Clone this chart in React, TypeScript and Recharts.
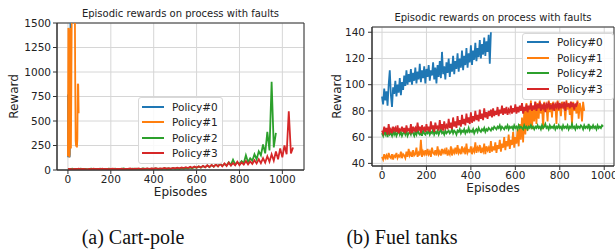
import React from 'react';
import { LineChart, Line, XAxis, YAxis, CartesianGrid, Legend, ReferenceArea } from 'recharts';

const COLORS = ['#1f77b4', '#ff7f0e', '#2ca02c', '#d62728'];
const POLICIES = ['Policy#0', 'Policy#1', 'Policy#2', 'Policy#3'];
const FONT = 'DejaVu Sans, sans-serif';

// ---- (a) Cart-pole: rewards per episode (sampled every N episodes) ----
const CART_STEPS = [1, 2, 10, 10];
const CART_P0 = [770, 130, 250, 150, 300, 200, 180, 140, 130, 160, 1200, 620, 1700, 1800, 1600, 1750, 1900, 1700, 1800, 1650, 1700];
const CART_P1 = [140, 1450, 1420, 130, 160, 600, 1450, 220, 900, 1700, 1800, 1650, 1750, 1900, 1700, 1600, 1800, 900, 300, 240, 260, 230, 320, 880, 870, 580];
const CART_P2 = [
  12, 9, 14, 10, 11, 9, 13, 10, 12, 9,
  11, 14, 9, 12, 10, 13, 9, 12, 10, 14,
  11, 9, 13, 10, 12, 11, 15, 10, 12, 9,
  13, 11, 14, 10, 12, 15, 11, 13, 10, 14,
  12, 16, 11, 14, 12, 17, 13, 15, 12, 18,
  14, 16, 13, 19, 15, 22, 17, 25, 18, 30,
  22, 35, 24, 40, 28, 45, 30, 50, 35, 55,
  38, 65, 42, 60, 48, 80, 52, 105, 58, 75,
  62, 90, 70, 150, 80, 120, 95, 160, 110, 190,
  150, 260, 170, 390, 200, 900, 230, 380,
];
const CART_P3 = [
  8, 12, 7, 11, 9, 13, 8, 12, 10, 7,
  12, 9, 13, 8, 11, 10, 14, 9, 12, 8,
  11, 13, 9, 12, 10, 14, 8, 12, 11, 15,
  9, 13, 11, 16, 10, 14, 12, 17, 11, 15,
  13, 18, 12, 16, 14, 20, 13, 18, 15, 22,
  16, 24, 17, 26, 19, 28, 20, 32, 22, 35,
  24, 38, 26, 42, 28, 48, 30, 52, 33, 58,
  36, 62, 38, 68, 42, 75, 45, 70, 48, 85,
  50, 78, 55, 92, 58, 88, 62, 100, 66, 110,
  70, 120, 75, 140, 85, 160, 95, 190, 110, 220,
  130, 250, 160, 600, 170, 230,
];
const CART_SERIES = [CART_P0, CART_P1, CART_P2, CART_P3];
const CART_X_TICKS = [0, 200, 400, 600, 800, 1000];
const CART_Y_TICKS = [0, 250, 500, 750, 1000, 1250, 1500];

// ---- (b) Fuel tanks: rewards every 5 episodes ----
const FUEL_STEP = 5;
const FUEL_P0 = [
  91, 85, 97, 88, 95, 84, 100, 111, 92, 83,
  98, 93, 103, 91, 100, 94, 105, 92, 102, 96,
  107, 99, 111, 100, 108, 102, 112, 100, 109, 103,
  113, 101, 110, 104, 116, 102, 111, 105, 114, 101,
  112, 106, 115, 103, 111, 107, 117, 104, 113, 101,
  115, 106, 118, 105, 125, 108, 114, 104, 117, 109,
  120, 106, 116, 110, 122, 108, 118, 112, 124, 110,
  120, 113, 126, 111, 122, 115, 128, 113, 124, 117,
  130, 115, 126, 119, 132, 118, 128, 121, 134, 120,
  131, 123, 136, 122, 133, 125, 138, 116, 140,
];
const FUEL_P1 = [
  45, 43, 47, 44, 46, 43, 48, 45, 44, 47, 43, 46, 45, 48, 44, 46, 45, 49, 44, 47,
  46, 44, 49, 45, 51, 46, 48, 45, 50, 46, 47, 52, 45, 48, 46, 58, 45, 49, 47, 50,
  46, 51, 47, 49, 45, 52, 48, 47, 50, 46, 53, 47, 49, 46, 51, 48, 50, 47, 52, 46,
  49, 47, 53, 46, 50, 48, 52, 47, 54, 48, 50, 47, 53, 49, 51, 47, 55, 48, 50, 49,
  53, 47, 51, 49, 56, 48, 52, 50, 54, 48, 51, 49, 55, 47, 53, 50, 52, 48, 57, 49,
  53, 50, 56, 48, 54, 51, 58, 49, 55, 52, 60, 50, 57, 53, 62, 51, 58, 54, 64, 52,
  60, 55, 66, 53, 70, 58, 75, 56, 80, 62, 86, 65, 82, 68, 88, 66, 84, 72, 87, 70,
  86, 74, 88, 78, 85, 66, 87, 80, 84, 72, 88, 79, 86, 75, 87, 81, 85, 70, 88, 80,
  84, 76, 87, 82, 85, 73, 88, 81, 86, 77, 84, 70, 87, 80, 85, 78, 88, 74, 86, 82,
  72, 87, 80,
];
const FUEL_P2 = [
  63, 61, 65, 62, 64, 60, 66, 62, 63, 61, 65, 62, 64, 61, 63, 65, 62, 64, 61, 63,
  64, 62, 65, 61, 63, 64, 62, 65, 63, 61, 64, 62, 66, 63, 62, 64, 61, 65, 63, 62,
  64, 63, 65, 62, 64, 63, 66, 62, 64, 63, 65, 62, 64, 66, 63, 64, 62, 65, 63, 64,
  65, 63, 64, 66, 63, 65, 64, 62, 65, 64, 66, 63, 65, 64, 66, 63, 65, 64, 67, 64,
  65, 64, 66, 63, 65, 66, 64, 67, 65, 64, 66, 65, 67, 64, 66, 65, 67, 66, 65, 67,
  66, 68, 67, 66, 68, 67, 69, 66, 68, 67, 66, 68, 67, 69, 66, 68, 67, 68, 66, 69,
  67, 68, 66, 69, 67, 68, 67, 66, 69, 67, 68, 66, 68, 67, 69, 67, 68, 66, 68, 67,
  69, 67, 68, 66, 69, 67, 68, 70, 67, 68, 66, 69, 67, 68, 67, 69, 66, 68, 67, 69,
  67, 68, 66, 69, 67, 68, 67, 69, 66, 68, 67, 70, 67, 68, 66, 69, 67, 68, 67, 69,
  68, 66, 69, 67, 68, 67, 70, 66, 68, 67, 69, 67, 68, 66, 69, 67, 68, 67, 69, 68,
];
const FUEL_P3 = [
  65, 63, 68, 64, 67, 62, 70, 64, 66, 63, 68, 65, 67, 64, 69, 63, 66, 65, 68, 64,
  67, 63, 69, 65, 66, 64, 70, 63, 68, 65, 67, 64, 71, 65, 68, 63, 69, 66, 67, 64,
  70, 65, 68, 64, 72, 66, 69, 64, 71, 67, 68, 65, 73, 66, 70, 65, 72, 67, 69, 66,
  74, 67, 71, 66, 75, 68, 72, 67, 76, 69, 73, 68, 77, 70, 74, 69, 78, 71, 75, 70,
  79, 71, 76, 72, 80, 73, 77, 72, 81, 74, 78, 73, 82, 75, 79, 74, 80, 76, 81, 75,
  82, 76, 80, 77, 83, 76, 81, 78, 84, 77, 82, 78, 83, 77, 81, 79, 84, 78, 82, 79,
  85, 78, 83, 79, 84, 80, 86, 78, 83, 80, 85, 79, 84, 81, 86, 80, 84, 81, 87, 80,
  85, 82, 87, 80, 84, 82, 86, 79, 85, 83, 87, 81, 84, 82, 86, 80, 85, 83, 87, 81,
  86, 82, 85, 83, 87, 80, 86, 84, 85, 82, 87, 83, 86, 81, 85, 84, 87,
];
const FUEL_SERIES = [FUEL_P0, FUEL_P1, FUEL_P2, FUEL_P3];
const FUEL_X_TICKS = [0, 200, 400, 600, 800, 1000];
const FUEL_Y_TICKS = [40, 60, 80, 100, 120, 140];

const toPoints = (ys: number[], step: number) => ys.map((reward, i) => ({ episode: i * step, reward }));

const tickStyle = { fontSize: 10.5, fill: '#222', fontFamily: FONT };
const labelStyle = { fontSize: 12, fill: '#222', fontFamily: FONT, textAnchor: 'middle' as const };

const PolicyLegend = ({ rowHeight, padTop, padLeft }: any) => (
  <div
    style={{
      background: 'rgba(255,255,255,0.85)',
      border: '1px solid #d8d8d8',
      borderRadius: 3,
      paddingTop: padTop,
      paddingLeft: padLeft,
      paddingBottom: 2,
      fontFamily: FONT,
      fontSize: 10.5,
      color: '#222',
      boxSizing: 'border-box',
    }}
  >
    {POLICIES.map((p, i) => (
      <div key={p} style={{ display: 'flex', alignItems: 'center', height: rowHeight }}>
        <span style={{ display: 'inline-block', width: 22, height: 2, background: COLORS[i], marginRight: 8 }} />
        <span>{p}</span>
      </div>
    ))}
  </div>
);

const CartChart = () => (
  <LineChart width={310} height={200} margin={{ top: 23, right: 6, bottom: 0, left: 0 }}>
    <CartesianGrid stroke="#d6d6d6" />
    <XAxis
      type="number"
      dataKey="episode"
      domain={[-51, 1101]}
      ticks={CART_X_TICKS}
      interval={0}
      height={30}
      tickSize={4}
      tickMargin={2}
      stroke="#333"
      tick={tickStyle}
      label={{ value: 'Episodes', position: 'insideBottom', offset: 4, style: labelStyle }}
    />
    <YAxis
      type="number"
      domain={[0, 1500]}
      allowDataOverflow
      ticks={CART_Y_TICKS}
      interval={0}
      width={57}
      tickSize={4}
      tickMargin={2}
      stroke="#333"
      tick={tickStyle}
      label={{ value: 'Reward', angle: -90, position: 'insideLeft', offset: 14, style: labelStyle }}
    />
    <ReferenceArea x1={-51} x2={1101} y1={0} y2={1500} fill="none" stroke="#333" strokeWidth={1} />
    {CART_SERIES.map((ys, i) => (
      <Line
        key={POLICIES[i]}
        name={POLICIES[i]}
        data={toPoints(ys, CART_STEPS[i])}
        dataKey="reward"
        stroke={COLORS[i]}
        strokeWidth={1.8}
        dot={false}
        isAnimationActive={false}
      />
    ))}
    <Legend
      layout="vertical"
      align="center"
      verticalAlign="middle"
      content={<PolicyLegend rowHeight={15.3} padTop={1.5} padLeft={3} />}
      wrapperStyle={{ left: 138, top: 97, width: 85, height: 'auto' }}
    />
  </LineChart>
);

const FuelChart = () => (
  <LineChart width={305} height={200} margin={{ top: 27, right: 1, bottom: 0, left: 0 }}>
    <CartesianGrid stroke="#d6d6d6" />
    <XAxis
      type="number"
      dataKey="episode"
      domain={[-45, 1044]}
      ticks={FUEL_X_TICKS}
      interval={0}
      height={34}
      tickSize={4}
      tickMargin={2}
      stroke="#333"
      tick={tickStyle}
      label={{ value: 'Episodes', position: 'insideBottom', offset: 8, style: labelStyle }}
    />
    <YAxis
      type="number"
      domain={[38, 144]}
      allowDataOverflow
      ticks={FUEL_Y_TICKS}
      interval={0}
      width={62}
      tickSize={4}
      tickMargin={3}
      stroke="#333"
      tick={tickStyle}
      label={{ value: 'Reward', angle: -90, position: 'insideLeft', offset: 26.5, style: labelStyle }}
    />
    <ReferenceArea x1={-45} x2={1044} y1={38} y2={144} fill="none" stroke="#333" strokeWidth={1} />
    {FUEL_SERIES.map((ys, i) => (
      <Line
        key={POLICIES[i]}
        name={POLICIES[i]}
        data={toPoints(ys, FUEL_STEP)}
        dataKey="reward"
        stroke={COLORS[i]}
        strokeWidth={1.8}
        dot={false}
        isAnimationActive={false}
      />
    ))}
    <Legend
      layout="vertical"
      align="center"
      verticalAlign="middle"
      content={<PolicyLegend rowHeight={15.7} padTop={0} padLeft={4} />}
      wrapperStyle={{ left: 212, top: 33, width: 92, height: 'auto' }}
    />
  </LineChart>
);

export default function App() {
  return (
    <div style={{ position: 'absolute', left: 0, top: 0, width: 615, height: 249, background: '#fff', overflow: 'hidden' }}>
      <div style={{ position: 'absolute', left: 0, top: 0 }}>
        <CartChart />
      </div>
      <div style={{ position: 'absolute', left: 310, top: 0 }}>
        <FuelChart />
      </div>
      <svg width={615} height={249} style={{ position: 'absolute', left: 0, top: 0, pointerEvents: 'none' }}>
        <text x={180.5} y={17} textAnchor="middle" fontSize={10} fill="#222" fontFamily={FONT}>
          Episodic rewards on process with faults
        </text>
        <text x={493} y={20.5} textAnchor="middle" fontSize={10} fill="#222" fontFamily={FONT}>
          Episodic rewards on process with faults
        </text>
        <text x={133} y={244} textAnchor="middle" fontSize={20} fill="#111" fontFamily="Liberation Serif, serif">
          (a) Cart-pole
        </text>
        <text x={402} y={244} textAnchor="middle" fontSize={20} fill="#111" fontFamily="Liberation Serif, serif">
          (b) Fuel tanks
        </text>
      </svg>
    </div>
  );
}
